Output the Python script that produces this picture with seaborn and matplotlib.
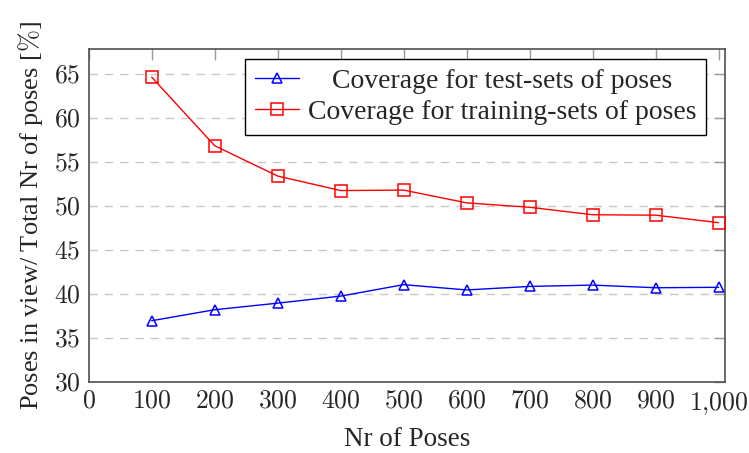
import matplotlib
matplotlib.use("Agg")
import matplotlib.pyplot as plt
from matplotlib.ticker import FixedLocator, FuncFormatter
import numpy as np
import pandas as pd
import seaborn as sns

# Number of poses in each set
n_poses = [100, 200, 300, 400, 500, 600, 700, 800, 900, 1000]
# Coverage (% of poses in view) per set size
test_coverage = [37.0, 38.25, 39.0, 39.8, 41.1, 40.5, 40.9, 41.05, 40.75, 40.8]
train_coverage = [64.7, 56.9, 53.45, 51.8, 51.85, 50.4, 49.9, 49.05, 49.0, 48.15]

test_label = "Coverage for test-sets of poses"
train_label = "Coverage for training-sets of poses"

x_ticks = [0, 100, 200, 300, 400, 500, 600, 700, 800, 900, 1000]
y_ticks = [30, 35, 40, 45, 50, 55, 60, 65]

sns.set_style("white")
plt.rcParams["font.family"] = ["Liberation Serif", "DejaVu Serif"]
plt.rcParams["mathtext.fontset"] = "cm"

df = pd.DataFrame({
    "poses": n_poses * 2,
    "coverage": test_coverage + train_coverage,
    "series": [test_label] * len(n_poses) + [train_label] * len(n_poses),
})

fig = plt.figure(figsize=(7.49, 4.53), dpi=100)
ax = fig.add_axes([0.1184, 0.1561, 0.8495, 0.7358])

styles = {test_label: ("#0000ff", "^", 7.2), train_label: ("#ff0000", "s", 8.4)}
for name, (color, marker, ms) in styles.items():
    sub = df[df["series"] == name]
    sns.lineplot(data=sub, x="poses", y="coverage", ax=ax, color=color,
                 marker=marker, markersize=ms, markerfacecolor="none",
                 markeredgecolor=color, markeredgewidth=1.1, linewidth=1.0,
                 label=name, zorder=3)

ax.set_xlim(0, 1010)
ax.set_ylim(30, 67.9)
ax.xaxis.set_major_locator(FixedLocator(x_ticks))
ax.yaxis.set_major_locator(FixedLocator(y_ticks))


def fmt(v, _pos):
    s = f"{int(round(v)):,}".replace(",", "{,}")
    return f"${s}$"


ax.xaxis.set_major_formatter(FuncFormatter(fmt))
ax.yaxis.set_major_formatter(FuncFormatter(fmt))

ax.yaxis.grid(True, color="#c8c8c8", linestyle=(0, (6, 5)), linewidth=1.0, zorder=0)
ax.xaxis.grid(False)
ax.set_axisbelow(True)

ax.tick_params(axis="both", which="major", direction="in", length=8,
               width=1.0, color="#9a9a9a", labelsize=18.5, pad=6,
               top=True, right=True, labeltop=False, labelright=False)
for sp in ax.spines.values():
    sp.set_color("#505050")
    sp.set_linewidth(1.2)
    sp.set_visible(True)

ax.set_xlabel("Nr of Poses", fontsize=19.5, labelpad=7)
ax.set_ylabel(r"Poses in view/ Total Nr of poses [$\%$]", fontsize=19, labelpad=6)

leg = ax.legend(loc="upper right", bbox_to_anchor=(0.97, 0.97), borderaxespad=0,
                fontsize=20, frameon=True, fancybox=False, shadow=False,
                framealpha=1, edgecolor="black", handlelength=1.6,
                handletextpad=0.3, borderpad=0.35, labelspacing=0.2)
leg.get_frame().set_linewidth(1.0)

# Center the shorter legend entry within the text column
fig.canvas.draw()
renderer = fig.canvas.get_renderer()
widths = [t.get_window_extent(renderer).width for t in leg.get_texts()]
wmax = max(widths)
for t, w in zip(leg.get_texts(), widths):
    t.set_x((wmax - w) / 2)

fig.savefig("out.png", dpi=100)
